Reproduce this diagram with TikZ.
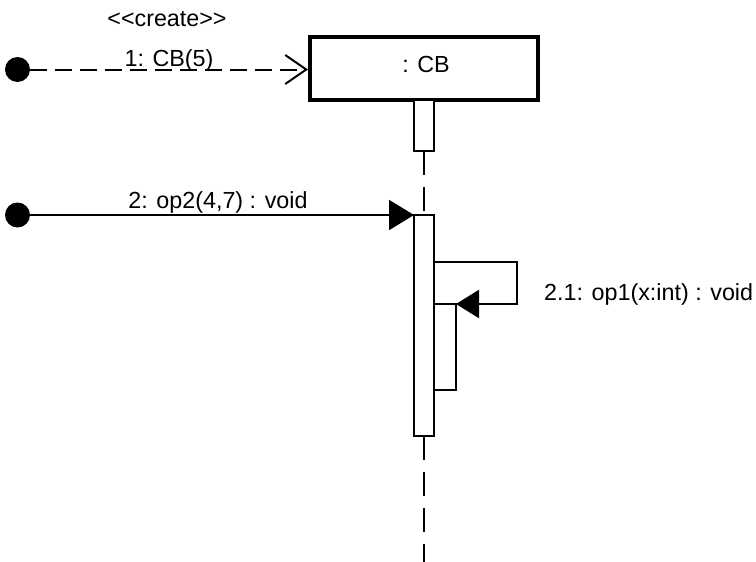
\documentclass[tikz,border=0pt]{standalone}
\usepackage{fontspec}
\setmainfont{Liberation Sans}[Ligatures=TeXOff]
\usetikzlibrary{arrows.meta}
\begin{document}
\begin{tikzpicture}[x=1pt,y=-1pt,
  lbl/.style={font=\fontsize{23.3}{27}\selectfont, inner sep=0pt, anchor=base},
  dotnode/.style={circle, fill=black, inner sep=0pt, minimum size=25pt},
  bar/.style={draw, fill=white, line width=2pt, inner sep=0pt, outer sep=0pt, minimum width=20pt},
  msg/.style={line width=2pt},
  lifeline/.style={line width=2pt, dash pattern=on 24pt off 12pt}]
\useasboundingbox (0,0) rectangle (756,562);
% object box
\node[draw, line width=4.5pt, inner sep=0pt, outer sep=0pt, minimum width=228pt, minimum height=63pt] (CB) at (424,68.5) {};
\node[lbl] (CBt) at (426,72) {: CB};
% lifeline
\coordinate (lend) at (424,562);
\draw[lifeline] (424,151) -- (424,215);
\draw[lifeline] (424,436) -- (lend);
% activations
\node[bar, minimum height=51pt] (act1) at (424,125.5) {};
\node[bar, minimum height=221pt] (act2) at (424,325.5) {};
\node[bar, minimum width=22pt, minimum height=86pt] (nest) at (445,347) {};
% dots
\node[dotnode] (dot1) at (17.5,69.5) {};
\node[dotnode] (dot2) at (17.5,215) {};
% message 1 (create)
\draw[msg, dash pattern=on 17pt off 8pt, -{Straight Barb[length=21pt,width=29pt]}] (dot1.east) -- ([xshift=-2pt]CB.west |- dot1.east);
\node[lbl] (create) at (167,27) {<<create>>};
\node[lbl] (m1) at (169,66) {1: CB(5)};
% message 2
\draw[msg, -{Triangle[length=25pt,width=30pt]}] (dot2.east) -- (act2.north west);
\node[lbl] (m2) at (218,208) {2: op2(4,7) : void};
% self call
\coordinate (s1) at (517,262);
\coordinate (s2) at (517,304);
\draw[msg, -{Triangle[length=23pt,width=28pt]}] (act2.east |- s1) -- (s1) -- (s2) -- (nest.north east);
\node[lbl, anchor=base west] (m3) at (544,300) {2.1: op1(x:int) : void};
\end{tikzpicture}
\end{document}
